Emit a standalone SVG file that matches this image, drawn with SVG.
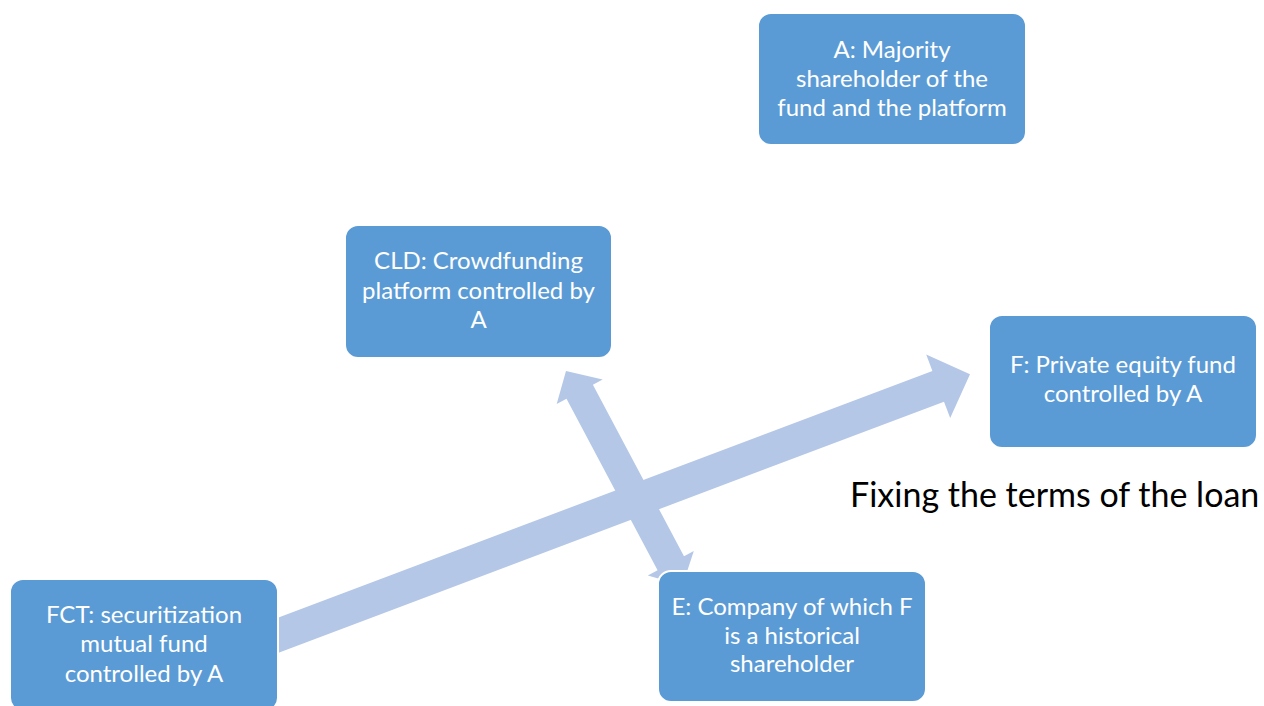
<svg xmlns="http://www.w3.org/2000/svg" width="1264" height="706" viewBox="0 0 1264 706">
<style>
.box{fill:#5B9BD5;stroke:#FFFFFF;stroke-width:2}
.lbl{font-family:Lato,"Liberation Sans",sans-serif;font-size:24px;fill:#FFFFFF;text-anchor:middle}
.arr{fill:#B4C7E7}
.cap{font-family:Lato,"Liberation Sans",sans-serif;font-size:34px;fill:#000000}
</style>
<rect width="1264" height="706" fill="#FFFFFF"/>
<g id="connectors">
<polygon class="arr" points="253.1,627.2 932.4,370.9 926.2,354.5 970,374.3 950.2,418.1 944.0,401.7 264.7,658.0"/>
<polygon class="arr" points="566,371 602.7,379.5 592.9,384.7 684.0,556.3 693.8,551.1 682.5,585.4 647.8,575.5 657.6,570.3 566.5,398.7 556.7,403.9"/>
</g>
<g id="nodeA">
<rect class="box" x="758" y="13" width="268" height="132" rx="13"/>
<text class="lbl" x="892" y="57.7">A: Majority</text>
<text class="lbl" x="892" y="86.7">shareholder of the</text>
<text class="lbl" x="892" y="115.7">fund and the platform</text>
</g>
<g id="nodeCLD">
<rect class="box" x="345" y="225" width="267" height="133" rx="13"/>
<text class="lbl" x="478.5" y="269">CLD: Crowdfunding</text>
<text class="lbl" x="478.5" y="299">platform controlled by</text>
<text class="lbl" x="478.5" y="328">A</text>
</g>
<g id="nodeF">
<rect class="box" x="989" y="315" width="268" height="133" rx="13"/>
<text class="lbl" x="1123" y="372.7">F: Private equity fund</text>
<text class="lbl" x="1123" y="401.7">controlled by A</text>
</g>
<g id="nodeE">
<rect class="box" x="658" y="571" width="268" height="131" rx="13"/>
<text class="lbl" x="792" y="615">E: Company of which F</text>
<text class="lbl" x="792" y="643.5">is a historical</text>
<text class="lbl" x="792" y="672">shareholder</text>
</g>
<g id="nodeFCT">
<rect class="box" x="10" y="579" width="268" height="132" rx="13"/>
<text class="lbl" x="144" y="623.3">FCT: securitization</text>
<text class="lbl" x="144" y="652.3">mutual fund</text>
<text class="lbl" x="144" y="681.5">controlled by A</text>
</g>
<g id="caption">
<text class="cap" x="850" y="507">Fixing the terms of the loan</text>
</g>
</svg>
